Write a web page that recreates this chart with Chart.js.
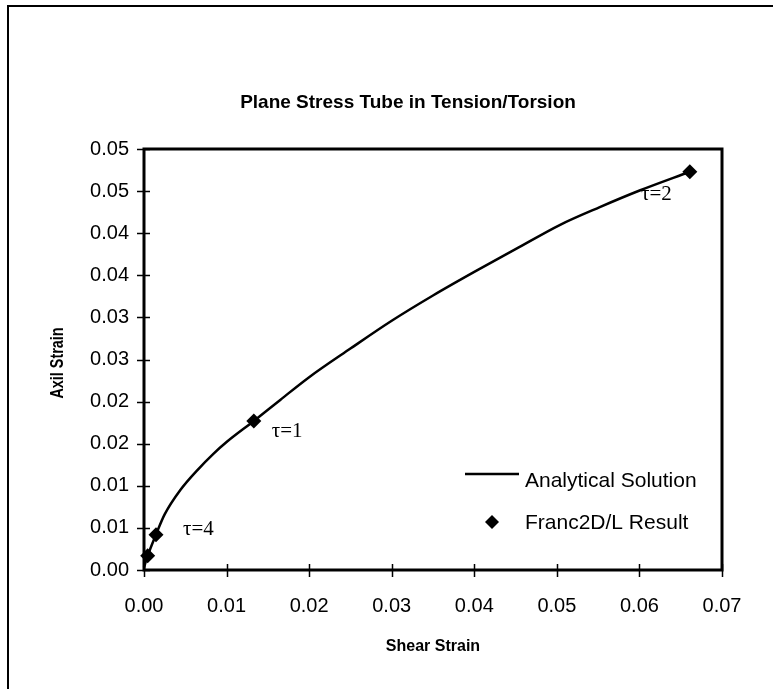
<!DOCTYPE html>
<html>
<head>
<meta charset="utf-8">
<title>Plane Stress Tube in Tension/Torsion</title>
<script src="https://cdn.jsdelivr.net/npm/chart.js@4.4.1/dist/chart.umd.min.js"></script>
<style>
  html, body { margin: 0; padding: 0; background: #fff; }
  #wrap { width: 773px; height: 689px; }
</style>
</head>
<body>
<div id="wrap"><canvas id="grafico" width="773" height="689"></canvas></div>
<script>
// analytical curve (shear strain vs axial strain)
const shearStrain = [0, 0.00045, 0.00145, 0.0025, 0.0044, 0.0065, 0.0084, 0.0100, 0.0133, 0.0165,
                     0.0200, 0.0250, 0.0300, 0.0350, 0.0400, 0.0450, 0.0504, 0.0552, 0.0601, 0.0661];
const axilStrain  = [0.0003, 0.0017, 0.0042, 0.0066, 0.0095, 0.0119, 0.0138, 0.0152, 0.0177, 0.0202,
                     0.0229, 0.0263, 0.0296, 0.0326, 0.0354, 0.0381, 0.0410, 0.0431, 0.0451, 0.0473];

// Franc2D/L points
const shearFranc = [0.00045, 0.00145, 0.0133, 0.0661];
const axilFranc  = [0.0017, 0.0042, 0.0177, 0.0473];
const francTags  = ["", "τ=4", "τ=1", "τ=2"];

const xTickLabels = ["0.00", "0.01", "0.02", "0.03", "0.04", "0.05", "0.06", "0.07"];
const yTickLabels = ["0.00", "0.01", "0.01", "0.02", "0.02", "0.03", "0.03", "0.04", "0.04", "0.05", "0.05"];

const sans = "'Liberation Sans', Arial, Helvetica, sans-serif";
const serif = "'Liberation Serif', 'Times New Roman', serif";

function drawDiamond(ctx, x, y, r) {
    ctx.beginPath();
    ctx.moveTo(x, y - r);
    ctx.lineTo(x + r, y);
    ctx.lineTo(x, y + r);
    ctx.lineTo(x - r, y);
    ctx.closePath();
    ctx.fill();
}

// frame, crossing tick marks, titles, tau tags and the legend box
const decor = {
    id: "decor",
    beforeDraw(chart) {
        const ctx = chart.ctx;
        ctx.save();
        ctx.fillStyle = "#fff";
        ctx.fillRect(0, 0, chart.width, chart.height);
        ctx.strokeStyle = "#000";
        ctx.lineWidth = 2;
        ctx.beginPath();
        ctx.moveTo(8, chart.height);
        ctx.lineTo(8, 6);
        ctx.lineTo(chart.width, 6);
        ctx.stroke();
        ctx.restore();
    },
    beforeDatasetsDraw(chart) {
        const ctx = chart.ctx;
        const a = chart.chartArea;
        const xs = chart.scales.x, ys = chart.scales.y;
        ctx.save();
        ctx.strokeStyle = "#000";
        ctx.lineWidth = 1.5;
        ctx.beginPath();
        xs.ticks.forEach(t => {
            const px = Math.round(xs.getPixelForValue(t.value)) + 0.5;
            ctx.moveTo(px, a.bottom - 6);
            ctx.lineTo(px, a.bottom + 7);
        });
        ys.ticks.forEach(t => {
            const py = Math.round(ys.getPixelForValue(t.value)) + 0.5;
            ctx.moveTo(a.left - 7, py);
            ctx.lineTo(a.left + 6, py);
        });
        ctx.stroke();
        ctx.lineWidth = 3;
        ctx.strokeRect(a.left, a.top, a.right - a.left, a.bottom - a.top);
        ctx.restore();
    },
    afterDraw(chart) {
        const ctx = chart.ctx;
        const meta = chart.getDatasetMeta(1);
        ctx.save();
        ctx.fillStyle = "#000";

        ctx.font = "bold 19px " + sans;
        ctx.textAlign = "center";
        ctx.textBaseline = "middle";
        ctx.fillText("Plane Stress Tube in Tension/Torsion", 408, 103);

        // narrow bold y title
        ctx.save();
        ctx.translate(58, 363);
        ctx.rotate(-Math.PI / 2);
        ctx.scale(0.8, 1);
        ctx.font = "bold 18px " + sans;
        ctx.fillText("Axil Strain", 0, 0);
        ctx.restore();

        // tau tags next to the Franc2D/L points
        ctx.font = "21px " + serif;
        const pts = meta.data;
        ctx.textAlign = "left";
        ctx.fillText(francTags[1], pts[1].x + 27, pts[1].y - 5);
        ctx.fillText(francTags[2], pts[2].x + 18, pts[2].y + 11);
        ctx.textAlign = "right";
        ctx.fillText(francTags[3], pts[3].x - 18, pts[3].y + 23);

        // legend
        const ds = chart.data.datasets;
        ctx.strokeStyle = "#000";
        ctx.lineWidth = 2.5;
        ctx.beginPath();
        ctx.moveTo(465, 474);
        ctx.lineTo(519, 474);
        ctx.stroke();
        drawDiamond(ctx, 492, 522, 7);
        ctx.font = "21px " + sans;
        ctx.textAlign = "left";
        ctx.textBaseline = "middle";
        ctx.fillText(ds[0].label, 525, 481);
        ctx.fillText(ds[1].label, 525, 523);
        ctx.restore();
    }
};

const ctx = document.getElementById("grafico");

new Chart(ctx, {
    type: "scatter",
    data: {
        datasets: [{
            label: "Analytical Solution",
            type: "line",
            data: shearStrain.map((x, i) => ({ x: x, y: axilStrain[i] })),
            borderColor: "#000",
            borderWidth: 2.5,
            pointRadius: 0,
            cubicInterpolationMode: "monotone",
            fill: false,
            clip: false
        }, {
            label: "Franc2D/L Result",
            data: shearFranc.map((x, i) => ({ x: x, y: axilFranc[i] })),
            pointStyle: "rectRot",
            pointRadius: 7.5,
            backgroundColor: "#000",
            borderColor: "#000",
            borderWidth: 0,
            clip: false
        }]
    },
    options: {
        responsive: false,
        animation: false,
        devicePixelRatio: 1,
        layout: { padding: { left: 0, top: 149, right: 51, bottom: 0 } },
        plugins: {
            legend: { display: false },
            title: { display: false },
            tooltip: { enabled: false }
        },
        scales: {
            x: {
                type: "linear",
                min: 0,
                max: 0.07,
                afterBuildTicks: s => { s.ticks = xTickLabels.map((_, i) => ({ value: i * 0.01 })); },
                grid: { display: false, drawTicks: false },
                border: { display: false },
                ticks: {
                    callback: (v, i) => xTickLabels[i],
                    color: "#000",
                    font: { family: sans, size: 20 },
                    padding: 24,
                    maxRotation: 0
                },
                title: {
                    display: true,
                    text: "Shear Strain",
                    color: "#000",
                    font: { family: sans, size: 16, weight: "bold" },
                    padding: { top: 0, bottom: 33 }
                },
                afterFit: s => { s.height = 689 - 570; }
            },
            y: {
                type: "linear",
                min: 0,
                max: 0.05,
                afterBuildTicks: s => { s.ticks = yTickLabels.map((_, i) => ({ value: i * 0.005 })); },
                grid: { display: false, drawTicks: false },
                border: { display: false },
                ticks: {
                    callback: (v, i) => yTickLabels[i],
                    color: "#000",
                    font: { family: sans, size: 20 },
                    padding: 15
                },
                afterFit: s => { s.width = 144; }
            }
        }
    },
    plugins: [decor]
});
</script>
</body>
</html>
